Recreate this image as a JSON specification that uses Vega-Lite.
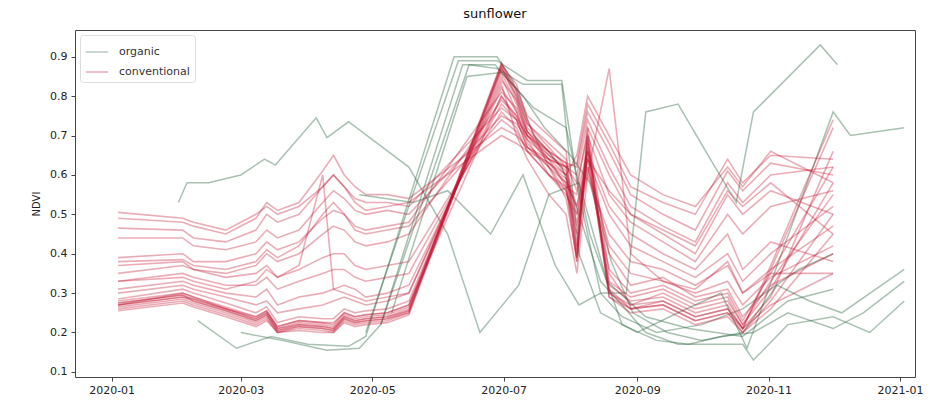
{
"$schema":"https://vega.github.io/schema/vega-lite/v6.json",
"width":840,"height":347,"autosize":"none",
"padding":{"left":75,"top":30,"right":16,"bottom":24},
"background":"white",
"title":{"text":"sunflower","fontSize":13,"fontWeight":"normal","font":"DejaVu Sans","color":"#111","offset":9,"anchor":"middle"},
"datasets":{
"grp":[{"s":"c1","group":"conventional"},{"s":"c2","group":"conventional"},{"s":"c3","group":"conventional"},{"s":"c4","group":"conventional"},{"s":"c5","group":"conventional"},{"s":"c6","group":"conventional"},{"s":"c7","group":"conventional"},{"s":"c8","group":"conventional"},{"s":"c9","group":"conventional"},{"s":"c10","group":"conventional"},{"s":"c11","group":"conventional"},{"s":"c12","group":"conventional"},{"s":"c13","group":"conventional"},{"s":"c14","group":"conventional"},{"s":"c15","group":"conventional"},{"s":"c16","group":"conventional"},{"s":"c17","group":"conventional"},{"s":"c18","group":"conventional"},{"s":"c19","group":"conventional"},{"s":"c20","group":"conventional"},{"s":"c21","group":"conventional"},{"s":"c22","group":"conventional"},{"s":"o1","group":"organic"},{"s":"o2","group":"organic"},{"s":"o3","group":"organic"},{"s":"o4","group":"organic"},{"s":"o5","group":"organic"},{"s":"o6","group":"organic"},{"s":"o7","group":"organic"}],
"pts":[
{"s":"c1","d":"2020-01-04","v":0.27},{"s":"c1","d":"2020-02-03","v":0.29},{"s":"c1","d":"2020-02-08","v":0.28},{"s":"c1","d":"2020-02-23","v":0.255},{"s":"c1","d":"2020-03-08","v":0.23},{"s":"c1","d":"2020-03-13","v":0.245},{"s":"c1","d":"2020-03-18","v":0.205},{"s":"c1","d":"2020-03-28","v":0.22},{"s":"c1","d":"2020-04-08","v":0.215},{"s":"c1","d":"2020-04-13","v":0.21},{"s":"c1","d":"2020-04-18","v":0.24},{"s":"c1","d":"2020-04-23","v":0.23},{"s":"c1","d":"2020-04-28","v":0.235},{"s":"c1","d":"2020-05-08","v":0.24},{"s":"c1","d":"2020-05-18","v":0.26},{"s":"c1","d":"2020-06-30","v":0.88},{"s":"c1","d":"2020-07-07","v":0.80},{"s":"c1","d":"2020-07-12","v":0.72},{"s":"c1","d":"2020-07-22","v":0.66},{"s":"c1","d":"2020-07-30","v":0.60},{"s":"c1","d":"2020-08-04","v":0.40},{"s":"c1","d":"2020-08-09","v":0.69},{"s":"c1","d":"2020-08-19","v":0.32},{"s":"c1","d":"2020-08-29","v":0.28},{"s":"c1","d":"2020-09-13","v":0.29},{"s":"c1","d":"2020-09-28","v":0.25},{"s":"c1","d":"2020-10-13","v":0.27},{"s":"c1","d":"2020-10-20","v":0.21},{"s":"c1","d":"2020-11-02","v":0.37},{"s":"c1","d":"2020-12-01","v":0.74},
{"s":"c2","d":"2020-01-04","v":0.275},{"s":"c2","d":"2020-02-03","v":0.295},{"s":"c2","d":"2020-02-08","v":0.285},{"s":"c2","d":"2020-02-23","v":0.26},{"s":"c2","d":"2020-03-08","v":0.235},{"s":"c2","d":"2020-03-13","v":0.25},{"s":"c2","d":"2020-03-18","v":0.21},{"s":"c2","d":"2020-03-28","v":0.225},{"s":"c2","d":"2020-04-08","v":0.22},{"s":"c2","d":"2020-04-13","v":0.215},{"s":"c2","d":"2020-04-18","v":0.245},{"s":"c2","d":"2020-04-23","v":0.235},{"s":"c2","d":"2020-04-28","v":0.24},{"s":"c2","d":"2020-05-08","v":0.245},{"s":"c2","d":"2020-05-18","v":0.265},{"s":"c2","d":"2020-06-30","v":0.87},{"s":"c2","d":"2020-07-07","v":0.82},{"s":"c2","d":"2020-07-12","v":0.75},{"s":"c2","d":"2020-07-22","v":0.70},{"s":"c2","d":"2020-07-30","v":0.66},{"s":"c2","d":"2020-08-04","v":0.42},{"s":"c2","d":"2020-08-09","v":0.72},{"s":"c2","d":"2020-08-19","v":0.35},{"s":"c2","d":"2020-08-29","v":0.27},{"s":"c2","d":"2020-09-13","v":0.30},{"s":"c2","d":"2020-09-28","v":0.26},{"s":"c2","d":"2020-10-13","v":0.28},{"s":"c2","d":"2020-10-20","v":0.22},{"s":"c2","d":"2020-11-02","v":0.33},{"s":"c2","d":"2020-12-01","v":0.55},
{"s":"c3","d":"2020-01-04","v":0.265},{"s":"c3","d":"2020-02-03","v":0.285},{"s":"c3","d":"2020-02-08","v":0.275},{"s":"c3","d":"2020-02-23","v":0.25},{"s":"c3","d":"2020-03-08","v":0.225},{"s":"c3","d":"2020-03-13","v":0.24},{"s":"c3","d":"2020-03-18","v":0.20},{"s":"c3","d":"2020-03-28","v":0.215},{"s":"c3","d":"2020-04-08","v":0.21},{"s":"c3","d":"2020-04-13","v":0.205},{"s":"c3","d":"2020-04-18","v":0.235},{"s":"c3","d":"2020-04-23","v":0.225},{"s":"c3","d":"2020-04-28","v":0.23},{"s":"c3","d":"2020-05-08","v":0.235},{"s":"c3","d":"2020-05-18","v":0.255},{"s":"c3","d":"2020-06-30","v":0.86},{"s":"c3","d":"2020-07-07","v":0.78},{"s":"c3","d":"2020-07-12","v":0.70},{"s":"c3","d":"2020-07-22","v":0.63},{"s":"c3","d":"2020-07-30","v":0.58},{"s":"c3","d":"2020-08-04","v":0.38},{"s":"c3","d":"2020-08-09","v":0.66},{"s":"c3","d":"2020-08-19","v":0.30},{"s":"c3","d":"2020-08-29","v":0.26},{"s":"c3","d":"2020-09-13","v":0.27},{"s":"c3","d":"2020-09-28","v":0.23},{"s":"c3","d":"2020-10-13","v":0.25},{"s":"c3","d":"2020-10-20","v":0.20},{"s":"c3","d":"2020-11-02","v":0.26},{"s":"c3","d":"2020-12-01","v":0.45},
{"s":"c4","d":"2020-01-04","v":0.28},{"s":"c4","d":"2020-02-03","v":0.30},{"s":"c4","d":"2020-02-08","v":0.29},{"s":"c4","d":"2020-02-23","v":0.265},{"s":"c4","d":"2020-03-08","v":0.24},{"s":"c4","d":"2020-03-13","v":0.255},{"s":"c4","d":"2020-03-18","v":0.215},{"s":"c4","d":"2020-03-28","v":0.23},{"s":"c4","d":"2020-04-08","v":0.225},{"s":"c4","d":"2020-04-13","v":0.22},{"s":"c4","d":"2020-04-18","v":0.25},{"s":"c4","d":"2020-04-23","v":0.24},{"s":"c4","d":"2020-04-28","v":0.245},{"s":"c4","d":"2020-05-08","v":0.25},{"s":"c4","d":"2020-05-18","v":0.27},{"s":"c4","d":"2020-06-30","v":0.85},{"s":"c4","d":"2020-07-07","v":0.76},{"s":"c4","d":"2020-07-12","v":0.68},{"s":"c4","d":"2020-07-22","v":0.62},{"s":"c4","d":"2020-07-30","v":0.56},{"s":"c4","d":"2020-08-04","v":0.45},{"s":"c4","d":"2020-08-09","v":0.64},{"s":"c4","d":"2020-08-19","v":0.33},{"s":"c4","d":"2020-08-29","v":0.29},{"s":"c4","d":"2020-09-13","v":0.31},{"s":"c4","d":"2020-09-28","v":0.27},{"s":"c4","d":"2020-10-13","v":0.29},{"s":"c4","d":"2020-10-20","v":0.22},{"s":"c4","d":"2020-11-02","v":0.31},{"s":"c4","d":"2020-12-01","v":0.58},
{"s":"c5","d":"2020-01-04","v":0.26},{"s":"c5","d":"2020-02-03","v":0.28},{"s":"c5","d":"2020-02-08","v":0.27},{"s":"c5","d":"2020-02-23","v":0.245},{"s":"c5","d":"2020-03-08","v":0.22},{"s":"c5","d":"2020-03-13","v":0.235},{"s":"c5","d":"2020-03-18","v":0.20},{"s":"c5","d":"2020-03-28","v":0.21},{"s":"c5","d":"2020-04-08","v":0.205},{"s":"c5","d":"2020-04-13","v":0.20},{"s":"c5","d":"2020-04-18","v":0.23},{"s":"c5","d":"2020-04-23","v":0.22},{"s":"c5","d":"2020-04-28","v":0.225},{"s":"c5","d":"2020-05-08","v":0.23},{"s":"c5","d":"2020-05-18","v":0.25},{"s":"c5","d":"2020-06-30","v":0.88},{"s":"c5","d":"2020-07-07","v":0.83},{"s":"c5","d":"2020-07-12","v":0.74},{"s":"c5","d":"2020-07-22","v":0.62},{"s":"c5","d":"2020-07-30","v":0.54},{"s":"c5","d":"2020-08-04","v":0.39},{"s":"c5","d":"2020-08-09","v":0.70},{"s":"c5","d":"2020-08-19","v":0.29},{"s":"c5","d":"2020-08-29","v":0.25},{"s":"c5","d":"2020-09-13","v":0.26},{"s":"c5","d":"2020-09-28","v":0.22},{"s":"c5","d":"2020-10-13","v":0.24},{"s":"c5","d":"2020-10-20","v":0.20},{"s":"c5","d":"2020-11-02","v":0.28},{"s":"c5","d":"2020-12-01","v":0.50},
{"s":"c6","d":"2020-01-04","v":0.27},{"s":"c6","d":"2020-02-03","v":0.30},{"s":"c6","d":"2020-02-08","v":0.29},{"s":"c6","d":"2020-02-23","v":0.26},{"s":"c6","d":"2020-03-08","v":0.24},{"s":"c6","d":"2020-03-13","v":0.255},{"s":"c6","d":"2020-03-18","v":0.215},{"s":"c6","d":"2020-03-28","v":0.23},{"s":"c6","d":"2020-04-08","v":0.225},{"s":"c6","d":"2020-04-13","v":0.225},{"s":"c6","d":"2020-04-18","v":0.25},{"s":"c6","d":"2020-04-23","v":0.24},{"s":"c6","d":"2020-04-28","v":0.245},{"s":"c6","d":"2020-05-08","v":0.25},{"s":"c6","d":"2020-05-18","v":0.27},{"s":"c6","d":"2020-06-30","v":0.80},{"s":"c6","d":"2020-07-07","v":0.74},{"s":"c6","d":"2020-07-12","v":0.67},{"s":"c6","d":"2020-07-22","v":0.63},{"s":"c6","d":"2020-07-30","v":0.59},{"s":"c6","d":"2020-08-04","v":0.48},{"s":"c6","d":"2020-08-09","v":0.62},{"s":"c6","d":"2020-08-19","v":0.36},{"s":"c6","d":"2020-08-29","v":0.30},{"s":"c6","d":"2020-09-13","v":0.32},{"s":"c6","d":"2020-09-28","v":0.28},{"s":"c6","d":"2020-10-13","v":0.30},{"s":"c6","d":"2020-10-20","v":0.23},{"s":"c6","d":"2020-11-02","v":0.35},{"s":"c6","d":"2020-12-01","v":0.62},
{"s":"c7","d":"2020-01-04","v":0.285},{"s":"c7","d":"2020-02-03","v":0.31},{"s":"c7","d":"2020-02-08","v":0.30},{"s":"c7","d":"2020-02-23","v":0.275},{"s":"c7","d":"2020-03-08","v":0.25},{"s":"c7","d":"2020-03-13","v":0.265},{"s":"c7","d":"2020-03-18","v":0.225},{"s":"c7","d":"2020-03-28","v":0.24},{"s":"c7","d":"2020-04-08","v":0.235},{"s":"c7","d":"2020-04-13","v":0.235},{"s":"c7","d":"2020-04-18","v":0.26},{"s":"c7","d":"2020-04-23","v":0.25},{"s":"c7","d":"2020-04-28","v":0.255},{"s":"c7","d":"2020-05-08","v":0.26},{"s":"c7","d":"2020-05-18","v":0.28},{"s":"c7","d":"2020-06-30","v":0.84},{"s":"c7","d":"2020-07-07","v":0.79},{"s":"c7","d":"2020-07-12","v":0.71},{"s":"c7","d":"2020-07-22","v":0.65},{"s":"c7","d":"2020-07-30","v":0.61},{"s":"c7","d":"2020-08-04","v":0.52},{"s":"c7","d":"2020-08-09","v":0.66},{"s":"c7","d":"2020-08-19","v":0.40},{"s":"c7","d":"2020-08-29","v":0.32},{"s":"c7","d":"2020-09-13","v":0.34},{"s":"c7","d":"2020-09-28","v":0.29},{"s":"c7","d":"2020-10-13","v":0.31},{"s":"c7","d":"2020-10-20","v":0.24},{"s":"c7","d":"2020-11-02","v":0.32},{"s":"c7","d":"2020-12-01","v":0.40},
{"s":"c8","d":"2020-01-04","v":0.255},{"s":"c8","d":"2020-02-03","v":0.275},{"s":"c8","d":"2020-02-08","v":0.265},{"s":"c8","d":"2020-02-23","v":0.24},{"s":"c8","d":"2020-03-08","v":0.215},{"s":"c8","d":"2020-03-13","v":0.23},{"s":"c8","d":"2020-03-18","v":0.20},{"s":"c8","d":"2020-03-28","v":0.205},{"s":"c8","d":"2020-04-08","v":0.20},{"s":"c8","d":"2020-04-13","v":0.20},{"s":"c8","d":"2020-04-18","v":0.225},{"s":"c8","d":"2020-04-23","v":0.215},{"s":"c8","d":"2020-04-28","v":0.22},{"s":"c8","d":"2020-05-08","v":0.225},{"s":"c8","d":"2020-05-18","v":0.245},{"s":"c8","d":"2020-06-30","v":0.87},{"s":"c8","d":"2020-07-07","v":0.80},{"s":"c8","d":"2020-07-12","v":0.73},{"s":"c8","d":"2020-07-22","v":0.68},{"s":"c8","d":"2020-07-30","v":0.64},{"s":"c8","d":"2020-08-04","v":0.41},{"s":"c8","d":"2020-08-09","v":0.68},{"s":"c8","d":"2020-08-19","v":0.31},{"s":"c8","d":"2020-08-29","v":0.26},{"s":"c8","d":"2020-09-13","v":0.28},{"s":"c8","d":"2020-09-28","v":0.24},{"s":"c8","d":"2020-10-13","v":0.26},{"s":"c8","d":"2020-10-20","v":0.21},{"s":"c8","d":"2020-11-02","v":0.29},{"s":"c8","d":"2020-12-01","v":0.66},
{"s":"c9","d":"2020-01-04","v":0.30},{"s":"c9","d":"2020-02-03","v":0.32},{"s":"c9","d":"2020-02-08","v":0.31},{"s":"c9","d":"2020-02-23","v":0.29},{"s":"c9","d":"2020-03-08","v":0.27},{"s":"c9","d":"2020-03-13","v":0.28},{"s":"c9","d":"2020-03-18","v":0.25},{"s":"c9","d":"2020-03-28","v":0.26},{"s":"c9","d":"2020-04-08","v":0.27},{"s":"c9","d":"2020-04-13","v":0.28},{"s":"c9","d":"2020-04-18","v":0.29},{"s":"c9","d":"2020-04-23","v":0.28},{"s":"c9","d":"2020-04-28","v":0.27},{"s":"c9","d":"2020-05-08","v":0.28},{"s":"c9","d":"2020-05-18","v":0.30},{"s":"c9","d":"2020-06-30","v":0.82},{"s":"c9","d":"2020-07-07","v":0.76},{"s":"c9","d":"2020-07-12","v":0.70},{"s":"c9","d":"2020-07-22","v":0.64},{"s":"c9","d":"2020-07-30","v":0.60},{"s":"c9","d":"2020-08-04","v":0.50},{"s":"c9","d":"2020-08-09","v":0.62},{"s":"c9","d":"2020-08-19","v":0.42},{"s":"c9","d":"2020-08-29","v":0.35},{"s":"c9","d":"2020-09-13","v":0.33},{"s":"c9","d":"2020-09-28","v":0.30},{"s":"c9","d":"2020-10-13","v":0.33},{"s":"c9","d":"2020-10-20","v":0.27},{"s":"c9","d":"2020-11-02","v":0.34},{"s":"c9","d":"2020-12-01","v":0.42},
{"s":"c10","d":"2020-01-04","v":0.31},{"s":"c10","d":"2020-02-03","v":0.33},{"s":"c10","d":"2020-02-08","v":0.32},{"s":"c10","d":"2020-02-23","v":0.30},{"s":"c10","d":"2020-03-08","v":0.29},{"s":"c10","d":"2020-03-13","v":0.31},{"s":"c10","d":"2020-03-18","v":0.27},{"s":"c10","d":"2020-03-28","v":0.29},{"s":"c10","d":"2020-04-08","v":0.30},{"s":"c10","d":"2020-04-13","v":0.31},{"s":"c10","d":"2020-04-18","v":0.32},{"s":"c10","d":"2020-04-23","v":0.31},{"s":"c10","d":"2020-04-28","v":0.29},{"s":"c10","d":"2020-05-08","v":0.30},{"s":"c10","d":"2020-05-18","v":0.32},{"s":"c10","d":"2020-06-30","v":0.80},{"s":"c10","d":"2020-07-07","v":0.75},{"s":"c10","d":"2020-07-12","v":0.69},{"s":"c10","d":"2020-07-22","v":0.60},{"s":"c10","d":"2020-07-30","v":0.56},{"s":"c10","d":"2020-08-04","v":0.47},{"s":"c10","d":"2020-08-09","v":0.60},{"s":"c10","d":"2020-08-19","v":0.45},{"s":"c10","d":"2020-08-29","v":0.38},{"s":"c10","d":"2020-09-13","v":0.36},{"s":"c10","d":"2020-09-28","v":0.32},{"s":"c10","d":"2020-10-13","v":0.37},{"s":"c10","d":"2020-10-20","v":0.30},{"s":"c10","d":"2020-11-02","v":0.36},{"s":"c10","d":"2020-12-01","v":0.47},
{"s":"c11","d":"2020-01-04","v":0.33},{"s":"c11","d":"2020-02-03","v":0.35},{"s":"c11","d":"2020-02-08","v":0.34},{"s":"c11","d":"2020-02-23","v":0.32},{"s":"c11","d":"2020-03-08","v":0.32},{"s":"c11","d":"2020-03-13","v":0.34},{"s":"c11","d":"2020-03-18","v":0.31},{"s":"c11","d":"2020-03-28","v":0.33},{"s":"c11","d":"2020-04-08","v":0.35},{"s":"c11","d":"2020-04-13","v":0.36},{"s":"c11","d":"2020-04-18","v":0.36},{"s":"c11","d":"2020-04-23","v":0.34},{"s":"c11","d":"2020-04-28","v":0.33},{"s":"c11","d":"2020-05-08","v":0.34},{"s":"c11","d":"2020-05-18","v":0.35},{"s":"c11","d":"2020-06-30","v":0.78},{"s":"c11","d":"2020-07-07","v":0.74},{"s":"c11","d":"2020-07-12","v":0.67},{"s":"c11","d":"2020-07-22","v":0.62},{"s":"c11","d":"2020-07-30","v":0.58},{"s":"c11","d":"2020-08-04","v":0.52},{"s":"c11","d":"2020-08-09","v":0.64},{"s":"c11","d":"2020-08-19","v":0.50},{"s":"c11","d":"2020-08-29","v":0.42},{"s":"c11","d":"2020-09-13","v":0.38},{"s":"c11","d":"2020-09-28","v":0.34},{"s":"c11","d":"2020-10-13","v":0.40},{"s":"c11","d":"2020-10-20","v":0.33},{"s":"c11","d":"2020-11-02","v":0.40},{"s":"c11","d":"2020-12-01","v":0.52},
{"s":"c12","d":"2020-01-04","v":0.35},{"s":"c12","d":"2020-02-03","v":0.37},{"s":"c12","d":"2020-02-08","v":0.36},{"s":"c12","d":"2020-02-23","v":0.34},{"s":"c12","d":"2020-03-08","v":0.35},{"s":"c12","d":"2020-03-13","v":0.37},{"s":"c12","d":"2020-03-18","v":0.34},{"s":"c12","d":"2020-03-28","v":0.36},{"s":"c12","d":"2020-04-08","v":0.39},{"s":"c12","d":"2020-04-13","v":0.40},{"s":"c12","d":"2020-04-18","v":0.40},{"s":"c12","d":"2020-04-23","v":0.37},{"s":"c12","d":"2020-04-28","v":0.36},{"s":"c12","d":"2020-05-08","v":0.37},{"s":"c12","d":"2020-05-18","v":0.38},{"s":"c12","d":"2020-06-30","v":0.76},{"s":"c12","d":"2020-07-07","v":0.72},{"s":"c12","d":"2020-07-12","v":0.66},{"s":"c12","d":"2020-07-22","v":0.60},{"s":"c12","d":"2020-07-30","v":0.57},{"s":"c12","d":"2020-08-04","v":0.55},{"s":"c12","d":"2020-08-09","v":0.66},{"s":"c12","d":"2020-08-19","v":0.52},{"s":"c12","d":"2020-08-29","v":0.45},{"s":"c12","d":"2020-09-13","v":0.40},{"s":"c12","d":"2020-09-28","v":0.36},{"s":"c12","d":"2020-10-13","v":0.45},{"s":"c12","d":"2020-10-20","v":0.36},{"s":"c12","d":"2020-11-02","v":0.43},{"s":"c12","d":"2020-12-01","v":0.38},
{"s":"c13","d":"2020-01-04","v":0.37},{"s":"c13","d":"2020-02-03","v":0.38},{"s":"c13","d":"2020-02-08","v":0.36},{"s":"c13","d":"2020-02-23","v":0.35},{"s":"c13","d":"2020-03-08","v":0.37},{"s":"c13","d":"2020-03-13","v":0.40},{"s":"c13","d":"2020-03-18","v":0.38},{"s":"c13","d":"2020-03-28","v":0.40},{"s":"c13","d":"2020-04-08","v":0.45},{"s":"c13","d":"2020-04-13","v":0.47},{"s":"c13","d":"2020-04-18","v":0.46},{"s":"c13","d":"2020-04-23","v":0.43},{"s":"c13","d":"2020-04-28","v":0.42},{"s":"c13","d":"2020-05-08","v":0.43},{"s":"c13","d":"2020-05-18","v":0.45},{"s":"c13","d":"2020-06-30","v":0.79},{"s":"c13","d":"2020-07-07","v":0.75},{"s":"c13","d":"2020-07-12","v":0.70},{"s":"c13","d":"2020-07-22","v":0.65},{"s":"c13","d":"2020-07-30","v":0.62},{"s":"c13","d":"2020-08-04","v":0.58},{"s":"c13","d":"2020-08-09","v":0.70},{"s":"c13","d":"2020-08-19","v":0.55},{"s":"c13","d":"2020-08-29","v":0.48},{"s":"c13","d":"2020-09-13","v":0.43},{"s":"c13","d":"2020-09-28","v":0.38},{"s":"c13","d":"2020-10-13","v":0.50},{"s":"c13","d":"2020-10-20","v":0.45},{"s":"c13","d":"2020-11-02","v":0.52},{"s":"c13","d":"2020-12-01","v":0.56},
{"s":"c14","d":"2020-01-04","v":0.39},{"s":"c14","d":"2020-02-03","v":0.40},{"s":"c14","d":"2020-02-08","v":0.38},{"s":"c14","d":"2020-02-23","v":0.38},{"s":"c14","d":"2020-03-08","v":0.40},{"s":"c14","d":"2020-03-13","v":0.43},{"s":"c14","d":"2020-03-18","v":0.41},{"s":"c14","d":"2020-03-28","v":0.43},{"s":"c14","d":"2020-04-08","v":0.49},{"s":"c14","d":"2020-04-13","v":0.51},{"s":"c14","d":"2020-04-18","v":0.50},{"s":"c14","d":"2020-04-23","v":0.47},{"s":"c14","d":"2020-04-28","v":0.46},{"s":"c14","d":"2020-05-08","v":0.47},{"s":"c14","d":"2020-05-18","v":0.48},{"s":"c14","d":"2020-06-30","v":0.81},{"s":"c14","d":"2020-07-07","v":0.77},{"s":"c14","d":"2020-07-12","v":0.71},{"s":"c14","d":"2020-07-22","v":0.66},{"s":"c14","d":"2020-07-30","v":0.63},{"s":"c14","d":"2020-08-04","v":0.56},{"s":"c14","d":"2020-08-09","v":0.72},{"s":"c14","d":"2020-08-19","v":0.60},{"s":"c14","d":"2020-08-29","v":0.50},{"s":"c14","d":"2020-09-13","v":0.45},{"s":"c14","d":"2020-09-28","v":0.40},{"s":"c14","d":"2020-10-13","v":0.55},{"s":"c14","d":"2020-10-20","v":0.50},{"s":"c14","d":"2020-11-02","v":0.56},{"s":"c14","d":"2020-12-01","v":0.50},
{"s":"c15","d":"2020-01-04","v":0.44},{"s":"c15","d":"2020-02-03","v":0.44},{"s":"c15","d":"2020-02-08","v":0.42},{"s":"c15","d":"2020-02-23","v":0.41},{"s":"c15","d":"2020-03-08","v":0.43},{"s":"c15","d":"2020-03-13","v":0.46},{"s":"c15","d":"2020-03-18","v":0.44},{"s":"c15","d":"2020-03-28","v":0.46},{"s":"c15","d":"2020-04-08","v":0.53},{"s":"c15","d":"2020-04-13","v":0.56},{"s":"c15","d":"2020-04-18","v":0.54},{"s":"c15","d":"2020-04-23","v":0.51},{"s":"c15","d":"2020-04-28","v":0.50},{"s":"c15","d":"2020-05-08","v":0.51},{"s":"c15","d":"2020-05-18","v":0.50},{"s":"c15","d":"2020-06-30","v":0.75},{"s":"c15","d":"2020-07-07","v":0.73},{"s":"c15","d":"2020-07-12","v":0.69},{"s":"c15","d":"2020-07-22","v":0.64},{"s":"c15","d":"2020-07-30","v":0.62},{"s":"c15","d":"2020-08-04","v":0.60},{"s":"c15","d":"2020-08-09","v":0.74},{"s":"c15","d":"2020-08-19","v":0.62},{"s":"c15","d":"2020-08-29","v":0.52},{"s":"c15","d":"2020-09-13","v":0.47},{"s":"c15","d":"2020-09-28","v":0.43},{"s":"c15","d":"2020-10-13","v":0.58},{"s":"c15","d":"2020-10-20","v":0.53},{"s":"c15","d":"2020-11-02","v":0.60},{"s":"c15","d":"2020-12-01","v":0.62},
{"s":"c16","d":"2020-01-04","v":0.465},{"s":"c16","d":"2020-02-03","v":0.46},{"s":"c16","d":"2020-02-08","v":0.44},{"s":"c16","d":"2020-02-23","v":0.43},{"s":"c16","d":"2020-03-08","v":0.46},{"s":"c16","d":"2020-03-13","v":0.50},{"s":"c16","d":"2020-03-18","v":0.48},{"s":"c16","d":"2020-03-28","v":0.50},{"s":"c16","d":"2020-04-08","v":0.57},{"s":"c16","d":"2020-04-13","v":0.60},{"s":"c16","d":"2020-04-18","v":0.57},{"s":"c16","d":"2020-04-23","v":0.54},{"s":"c16","d":"2020-04-28","v":0.53},{"s":"c16","d":"2020-05-08","v":0.53},{"s":"c16","d":"2020-05-18","v":0.52},{"s":"c16","d":"2020-06-30","v":0.77},{"s":"c16","d":"2020-07-07","v":0.74},{"s":"c16","d":"2020-07-12","v":0.70},{"s":"c16","d":"2020-07-22","v":0.66},{"s":"c16","d":"2020-07-30","v":0.63},{"s":"c16","d":"2020-08-04","v":0.62},{"s":"c16","d":"2020-08-09","v":0.76},{"s":"c16","d":"2020-08-19","v":0.66},{"s":"c16","d":"2020-08-29","v":0.55},{"s":"c16","d":"2020-09-13","v":0.50},{"s":"c16","d":"2020-09-28","v":0.46},{"s":"c16","d":"2020-10-13","v":0.61},{"s":"c16","d":"2020-10-20","v":0.56},{"s":"c16","d":"2020-11-02","v":0.63},{"s":"c16","d":"2020-12-01","v":0.60},
{"s":"c17","d":"2020-01-04","v":0.49},{"s":"c17","d":"2020-02-03","v":0.48},{"s":"c17","d":"2020-02-08","v":0.47},{"s":"c17","d":"2020-02-23","v":0.45},{"s":"c17","d":"2020-03-08","v":0.49},{"s":"c17","d":"2020-03-13","v":0.53},{"s":"c17","d":"2020-03-18","v":0.51},{"s":"c17","d":"2020-03-28","v":0.53},{"s":"c17","d":"2020-04-08","v":0.61},{"s":"c17","d":"2020-04-13","v":0.65},{"s":"c17","d":"2020-04-18","v":0.60},{"s":"c17","d":"2020-04-23","v":0.57},{"s":"c17","d":"2020-04-28","v":0.55},{"s":"c17","d":"2020-05-08","v":0.55},{"s":"c17","d":"2020-05-18","v":0.54},{"s":"c17","d":"2020-06-30","v":0.72},{"s":"c17","d":"2020-07-07","v":0.70},{"s":"c17","d":"2020-07-12","v":0.67},{"s":"c17","d":"2020-07-22","v":0.64},{"s":"c17","d":"2020-07-30","v":0.62},{"s":"c17","d":"2020-08-04","v":0.63},{"s":"c17","d":"2020-08-09","v":0.78},{"s":"c17","d":"2020-08-19","v":0.68},{"s":"c17","d":"2020-08-29","v":0.57},{"s":"c17","d":"2020-09-13","v":0.53},{"s":"c17","d":"2020-09-28","v":0.50},{"s":"c17","d":"2020-10-13","v":0.64},{"s":"c17","d":"2020-10-20","v":0.58},{"s":"c17","d":"2020-11-02","v":0.65},{"s":"c17","d":"2020-12-01","v":0.64},
{"s":"c18","d":"2020-01-04","v":0.505},{"s":"c18","d":"2020-02-03","v":0.49},{"s":"c18","d":"2020-02-08","v":0.48},{"s":"c18","d":"2020-02-23","v":0.46},{"s":"c18","d":"2020-03-08","v":0.50},{"s":"c18","d":"2020-03-13","v":0.52},{"s":"c18","d":"2020-03-18","v":0.50},{"s":"c18","d":"2020-03-28","v":0.52},{"s":"c18","d":"2020-04-08","v":0.57},{"s":"c18","d":"2020-04-13","v":0.60},{"s":"c18","d":"2020-04-18","v":0.57},{"s":"c18","d":"2020-04-23","v":0.53},{"s":"c18","d":"2020-04-28","v":0.51},{"s":"c18","d":"2020-05-08","v":0.52},{"s":"c18","d":"2020-05-18","v":0.53},{"s":"c18","d":"2020-06-30","v":0.70},{"s":"c18","d":"2020-07-07","v":0.68},{"s":"c18","d":"2020-07-12","v":0.66},{"s":"c18","d":"2020-07-22","v":0.63},{"s":"c18","d":"2020-07-30","v":0.60},{"s":"c18","d":"2020-08-04","v":0.65},{"s":"c18","d":"2020-08-09","v":0.80},{"s":"c18","d":"2020-08-19","v":0.70},{"s":"c18","d":"2020-08-29","v":0.60},{"s":"c18","d":"2020-09-13","v":0.55},{"s":"c18","d":"2020-09-28","v":0.52},{"s":"c18","d":"2020-10-13","v":0.62},{"s":"c18","d":"2020-10-20","v":0.57},{"s":"c18","d":"2020-11-02","v":0.66},{"s":"c18","d":"2020-12-01","v":0.58},
{"s":"c19","d":"2020-01-04","v":0.33},{"s":"c19","d":"2020-02-03","v":0.34},{"s":"c19","d":"2020-02-08","v":0.33},{"s":"c19","d":"2020-02-23","v":0.31},{"s":"c19","d":"2020-03-08","v":0.33},{"s":"c19","d":"2020-03-13","v":0.36},{"s":"c19","d":"2020-03-18","v":0.34},{"s":"c19","d":"2020-03-28","v":0.37},{"s":"c19","d":"2020-04-08","v":0.60},{"s":"c19","d":"2020-04-13","v":0.31},{"s":"c19","d":"2020-04-18","v":0.30},{"s":"c19","d":"2020-04-23","v":0.29},{"s":"c19","d":"2020-04-28","v":0.28},{"s":"c19","d":"2020-05-08","v":0.29},{"s":"c19","d":"2020-05-18","v":0.30},{"s":"c19","d":"2020-06-30","v":0.83},{"s":"c19","d":"2020-07-07","v":0.70},{"s":"c19","d":"2020-07-12","v":0.64},{"s":"c19","d":"2020-07-22","v":0.55},{"s":"c19","d":"2020-07-30","v":0.50},{"s":"c19","d":"2020-08-04","v":0.35},{"s":"c19","d":"2020-08-09","v":0.60},{"s":"c19","d":"2020-08-19","v":0.87},{"s":"c19","d":"2020-08-29","v":0.40},{"s":"c19","d":"2020-09-13","v":0.33},{"s":"c19","d":"2020-09-28","v":0.31},{"s":"c19","d":"2020-10-13","v":0.38},{"s":"c19","d":"2020-10-20","v":0.30},{"s":"c19","d":"2020-11-02","v":0.35},{"s":"c19","d":"2020-12-01","v":0.35},
{"s":"c20","d":"2020-01-04","v":0.38},{"s":"c20","d":"2020-02-03","v":0.385},{"s":"c20","d":"2020-02-08","v":0.37},{"s":"c20","d":"2020-02-23","v":0.36},{"s":"c20","d":"2020-03-08","v":0.38},{"s":"c20","d":"2020-03-13","v":0.41},{"s":"c20","d":"2020-03-18","v":0.39},{"s":"c20","d":"2020-03-28","v":0.42},{"s":"c20","d":"2020-04-08","v":0.50},{"s":"c20","d":"2020-04-13","v":0.53},{"s":"c20","d":"2020-04-18","v":0.50},{"s":"c20","d":"2020-04-23","v":0.46},{"s":"c20","d":"2020-04-28","v":0.45},{"s":"c20","d":"2020-05-08","v":0.46},{"s":"c20","d":"2020-05-18","v":0.47},{"s":"c20","d":"2020-06-30","v":0.74},{"s":"c20","d":"2020-07-07","v":0.71},{"s":"c20","d":"2020-07-12","v":0.66},{"s":"c20","d":"2020-07-22","v":0.60},{"s":"c20","d":"2020-07-30","v":0.55},{"s":"c20","d":"2020-08-04","v":0.50},{"s":"c20","d":"2020-08-09","v":0.64},{"s":"c20","d":"2020-08-19","v":0.56},{"s":"c20","d":"2020-08-29","v":0.50},{"s":"c20","d":"2020-09-13","v":0.46},{"s":"c20","d":"2020-09-28","v":0.42},{"s":"c20","d":"2020-10-13","v":0.56},{"s":"c20","d":"2020-10-20","v":0.52},{"s":"c20","d":"2020-11-02","v":0.58},{"s":"c20","d":"2020-12-01","v":0.45},
{"s":"c21","d":"2020-01-04","v":0.27},{"s":"c21","d":"2020-02-03","v":0.29},{"s":"c21","d":"2020-02-08","v":0.285},{"s":"c21","d":"2020-02-23","v":0.26},{"s":"c21","d":"2020-03-08","v":0.235},{"s":"c21","d":"2020-03-13","v":0.25},{"s":"c21","d":"2020-03-18","v":0.21},{"s":"c21","d":"2020-03-28","v":0.22},{"s":"c21","d":"2020-04-08","v":0.215},{"s":"c21","d":"2020-04-13","v":0.21},{"s":"c21","d":"2020-04-18","v":0.24},{"s":"c21","d":"2020-04-23","v":0.23},{"s":"c21","d":"2020-04-28","v":0.235},{"s":"c21","d":"2020-05-08","v":0.24},{"s":"c21","d":"2020-05-18","v":0.255},{"s":"c21","d":"2020-06-30","v":0.885},{"s":"c21","d":"2020-07-07","v":0.81},{"s":"c21","d":"2020-07-12","v":0.73},{"s":"c21","d":"2020-07-22","v":0.67},{"s":"c21","d":"2020-07-30","v":0.62},{"s":"c21","d":"2020-08-04","v":0.39},{"s":"c21","d":"2020-08-09","v":0.70},{"s":"c21","d":"2020-08-19","v":0.30},{"s":"c21","d":"2020-08-29","v":0.27},{"s":"c21","d":"2020-09-13","v":0.28},{"s":"c21","d":"2020-09-28","v":0.24},{"s":"c21","d":"2020-10-13","v":0.26},{"s":"c21","d":"2020-10-20","v":0.21},{"s":"c21","d":"2020-11-02","v":0.36},{"s":"c21","d":"2020-12-01","v":0.72},
{"s":"c22","d":"2020-01-04","v":0.275},{"s":"c22","d":"2020-02-03","v":0.295},{"s":"c22","d":"2020-02-08","v":0.28},{"s":"c22","d":"2020-02-23","v":0.255},{"s":"c22","d":"2020-03-08","v":0.23},{"s":"c22","d":"2020-03-13","v":0.245},{"s":"c22","d":"2020-03-18","v":0.205},{"s":"c22","d":"2020-03-28","v":0.215},{"s":"c22","d":"2020-04-08","v":0.21},{"s":"c22","d":"2020-04-13","v":0.205},{"s":"c22","d":"2020-04-18","v":0.235},{"s":"c22","d":"2020-04-23","v":0.225},{"s":"c22","d":"2020-04-28","v":0.23},{"s":"c22","d":"2020-05-08","v":0.235},{"s":"c22","d":"2020-05-18","v":0.25},{"s":"c22","d":"2020-06-30","v":0.875},{"s":"c22","d":"2020-07-07","v":0.79},{"s":"c22","d":"2020-07-12","v":0.71},{"s":"c22","d":"2020-07-22","v":0.64},{"s":"c22","d":"2020-07-30","v":0.57},{"s":"c22","d":"2020-08-04","v":0.38},{"s":"c22","d":"2020-08-09","v":0.67},{"s":"c22","d":"2020-08-19","v":0.29},{"s":"c22","d":"2020-08-29","v":0.26},{"s":"c22","d":"2020-09-13","v":0.27},{"s":"c22","d":"2020-09-28","v":0.23},{"s":"c22","d":"2020-10-13","v":0.25},{"s":"c22","d":"2020-10-20","v":0.21},{"s":"c22","d":"2020-11-02","v":0.27},{"s":"c22","d":"2020-12-01","v":0.35},
{"s":"o1","d":"2020-02-01","v":0.53},{"s":"o1","d":"2020-02-05","v":0.58},{"s":"o1","d":"2020-02-15","v":0.58},{"s":"o1","d":"2020-03-01","v":0.60},{"s":"o1","d":"2020-03-12","v":0.64},{"s":"o1","d":"2020-03-17","v":0.625},{"s":"o1","d":"2020-04-05","v":0.745},{"s":"o1","d":"2020-04-10","v":0.695},{"s":"o1","d":"2020-04-20","v":0.735},{"s":"o1","d":"2020-05-18","v":0.62},{"s":"o1","d":"2020-06-05","v":0.45},{"s":"o1","d":"2020-06-20","v":0.20},{"s":"o1","d":"2020-07-08","v":0.32},{"s":"o1","d":"2020-07-22","v":0.55},{"s":"o1","d":"2020-08-05","v":0.58},{"s":"o1","d":"2020-08-18","v":0.33},{"s":"o1","d":"2020-09-05","v":0.24},{"s":"o1","d":"2020-09-25","v":0.21},{"s":"o1","d":"2020-10-20","v":0.19},{"s":"o1","d":"2020-11-10","v":0.28},{"s":"o1","d":"2020-12-01","v":0.31},
{"s":"o2","d":"2020-02-10","v":0.23},{"s":"o2","d":"2020-02-28","v":0.16},{"s":"o2","d":"2020-03-15","v":0.19},{"s":"o2","d":"2020-04-01","v":0.17},{"s":"o2","d":"2020-04-20","v":0.165},{"s":"o2","d":"2020-04-28","v":0.19},{"s":"o2","d":"2020-06-08","v":0.90},{"s":"o2","d":"2020-06-28","v":0.90},{"s":"o2","d":"2020-07-05","v":0.84},{"s":"o2","d":"2020-07-15","v":0.70},{"s":"o2","d":"2020-07-28","v":0.62},{"s":"o2","d":"2020-08-05","v":0.50},{"s":"o2","d":"2020-08-15","v":0.33},{"s":"o2","d":"2020-08-25","v":0.27},{"s":"o2","d":"2020-09-05","v":0.20},{"s":"o2","d":"2020-09-20","v":0.17},{"s":"o2","d":"2020-10-05","v":0.17},{"s":"o2","d":"2020-10-20","v":0.17},{"s":"o2","d":"2020-10-25","v":0.13},{"s":"o2","d":"2020-11-10","v":0.22},{"s":"o2","d":"2020-12-01","v":0.24},{"s":"o2","d":"2020-12-18","v":0.20},{"s":"o2","d":"2021-01-03","v":0.28},
{"s":"o3","d":"2020-03-01","v":0.20},{"s":"o3","d":"2020-03-20","v":0.18},{"s":"o3","d":"2020-04-10","v":0.155},{"s":"o3","d":"2020-04-25","v":0.16},{"s":"o3","d":"2020-05-05","v":0.22},{"s":"o3","d":"2020-06-12","v":0.88},{"s":"o3","d":"2020-06-27","v":0.88},{"s":"o3","d":"2020-07-10","v":0.80},{"s":"o3","d":"2020-07-20","v":0.72},{"s":"o3","d":"2020-08-01","v":0.65},{"s":"o3","d":"2020-08-10","v":0.58},{"s":"o3","d":"2020-08-20","v":0.38},{"s":"o3","d":"2020-08-30","v":0.25},{"s":"o3","d":"2020-09-15","v":0.20},{"s":"o3","d":"2020-10-01","v":0.18},{"s":"o3","d":"2020-10-20","v":0.20},{"s":"o3","d":"2020-11-05","v":0.32},{"s":"o3","d":"2020-11-20","v":0.28},{"s":"o3","d":"2020-12-05","v":0.25},{"s":"o3","d":"2021-01-03","v":0.36},
{"s":"o4","d":"2020-04-28","v":0.20},{"s":"o4","d":"2020-06-10","v":0.89},{"s":"o4","d":"2020-06-28","v":0.89},{"s":"o4","d":"2020-07-12","v":0.84},{"s":"o4","d":"2020-07-28","v":0.84},{"s":"o4","d":"2020-08-05","v":0.55},{"s":"o4","d":"2020-08-15","v":0.30},{"s":"o4","d":"2020-08-27","v":0.30},{"s":"o4","d":"2020-09-05","v":0.76},{"s":"o4","d":"2020-09-20","v":0.78},{"s":"o4","d":"2020-10-05","v":0.64},{"s":"o4","d":"2020-10-17","v":0.53},{"s":"o4","d":"2020-10-25","v":0.76},{"s":"o4","d":"2020-11-25","v":0.93},{"s":"o4","d":"2020-12-03","v":0.88},
{"s":"o5","d":"2020-05-05","v":0.22},{"s":"o5","d":"2020-06-15","v":0.88},{"s":"o5","d":"2020-06-28","v":0.87},{"s":"o5","d":"2020-07-10","v":0.83},{"s":"o5","d":"2020-07-28","v":0.83},{"s":"o5","d":"2020-08-05","v":0.40},{"s":"o5","d":"2020-08-15","v":0.25},{"s":"o5","d":"2020-09-01","v":0.20},{"s":"o5","d":"2020-09-20","v":0.25},{"s":"o5","d":"2020-10-10","v":0.30},{"s":"o5","d":"2020-10-22","v":0.16},{"s":"o5","d":"2020-12-01","v":0.76},{"s":"o5","d":"2020-12-09","v":0.70},{"s":"o5","d":"2021-01-03","v":0.72},
{"s":"o6","d":"2020-05-10","v":0.25},{"s":"o6","d":"2020-06-14","v":0.85},{"s":"o6","d":"2020-06-30","v":0.86},{"s":"o6","d":"2020-07-15","v":0.77},{"s":"o6","d":"2020-07-30","v":0.72},{"s":"o6","d":"2020-08-10","v":0.45},{"s":"o6","d":"2020-08-25","v":0.22},{"s":"o6","d":"2020-09-10","v":0.18},{"s":"o6","d":"2020-09-25","v":0.17},{"s":"o6","d":"2020-10-10","v":0.19},{"s":"o6","d":"2020-10-25","v":0.20},{"s":"o6","d":"2020-11-10","v":0.25},{"s":"o6","d":"2020-12-01","v":0.21},{"s":"o6","d":"2020-12-15","v":0.25},{"s":"o6","d":"2021-01-03","v":0.33},
{"s":"o7","d":"2020-04-25","v":0.55},{"s":"o7","d":"2020-05-20","v":0.53},{"s":"o7","d":"2020-06-05","v":0.56},{"s":"o7","d":"2020-06-25","v":0.45},{"s":"o7","d":"2020-07-10","v":0.60},{"s":"o7","d":"2020-07-25","v":0.37},{"s":"o7","d":"2020-08-05","v":0.27},{"s":"o7","d":"2020-08-15","v":0.30},{"s":"o7","d":"2020-08-25","v":0.24},{"s":"o7","d":"2020-09-10","v":0.20},{"s":"o7","d":"2020-10-01","v":0.22},{"s":"o7","d":"2020-10-20","v":0.26},{"s":"o7","d":"2020-11-15","v":0.36},{"s":"o7","d":"2020-12-01","v":0.40}
]},
"data":{"name":"pts"},
"transform":[{"lookup":"s","from":{"data":{"name":"grp"},"key":"s","fields":["group"]}}],
"encoding":{
 "x":{"field":"d","type":"temporal","title":null,
  "scale":{"domain":[{"year":2019,"month":12,"date":15},{"year":2021,"month":1,"date":8}],"nice":false},
  "axis":{"values":[{"year":2020,"month":1,"date":1},{"year":2020,"month":3,"date":1},{"year":2020,"month":5,"date":1},{"year":2020,"month":7,"date":1},{"year":2020,"month":9,"date":1},{"year":2020,"month":11,"date":1},{"year":2021,"month":1,"date":1}],"format":"%Y-%m","labelFontSize":11,"labelPadding":3}},
 "y":{"field":"v","type":"quantitative","title":"NDVI",
  "scale":{"domain":[0.087,0.968],"nice":false,"zero":false},
  "axis":{"values":[0.1,0.2,0.3,0.4,0.5,0.6,0.7,0.8,0.9],"format":".1f","labelFontSize":11,"labelPadding":4,"titleFontSize":10,"titleFontWeight":"normal","titlePadding":8}},
 "color":{"field":"group","type":"nominal","scale":{"domain":["organic","conventional"],"range":["#2f6b45","#c0102c"]},
  "legend":{"orient":"top-left","offset":5,"title":null,"symbolType":"stroke","symbolStrokeWidth":1.5,"symbolOpacity":0.35,"symbolSize":500,"labelFontSize":11,"labelColor":"#333","strokeColor":"#ddd","fillColor":"white","padding":5,"rowPadding":3,"cornerRadius":3,"labelOffset":10}},
 "detail":{"field":"s","type":"nominal"}
},
"layer":[
 {"transform":[{"filter":"datum.group === 'organic'"}],"mark":{"type":"line","strokeWidth":1.5,"opacity":0.42}},
 {"transform":[{"filter":"datum.group === 'conventional'"}],"mark":{"type":"line","strokeWidth":1.6,"opacity":0.34}}
],
"config":{
 "font":"DejaVu Sans",
 "view":{"stroke":"#444","strokeWidth":1},
 "axis":{"grid":false,"domain":false,"tickColor":"#444","tickSize":4,"labelColor":"#222","titleColor":"#222","labelFont":"DejaVu Sans","titleFont":"DejaVu Sans"},
 "legend":{"labelFont":"DejaVu Sans"}
}
}
